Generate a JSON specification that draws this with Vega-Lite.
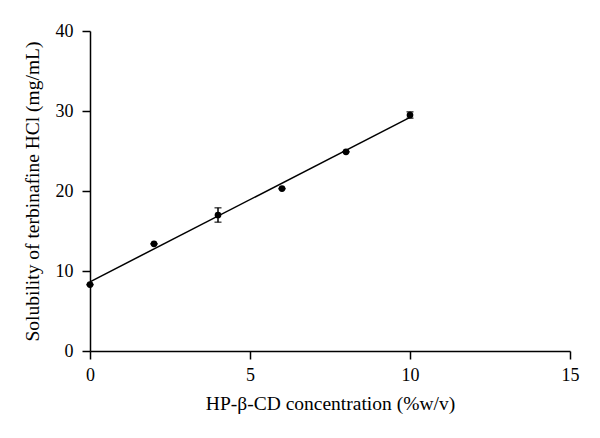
{
  "$schema": "https://vega.github.io/schema/vega-lite/v6.json",
  "width": 480,
  "height": 320,
  "autosize": "none",
  "padding": {"left": 90, "top": 31, "right": 30, "bottom": 87},
  "background": "white",
  "config": {
    "view": {"stroke": null},
    "font": "Liberation Serif",
    "axis": {
      "grid": false,
      "domainColor": "black",
      "domainWidth": 1.5,
      "tickColor": "black",
      "tickWidth": 1.5,
      "tickSize": 8,
      "labelFont": "Liberation Serif",
      "labelFontSize": 18,
      "labelColor": "black",
      "labelFlush": false,
      "labelOverlap": false,
      "titleFont": "Liberation Serif",
      "titleFontSize": 19.5,
      "titleFontWeight": "normal",
      "titleColor": "black"
    }
  },
  "datasets": {
    "points": [
      {"conc": 0, "sol": 8.3, "lo": 8.3, "hi": 8.3},
      {"conc": 2, "sol": 13.4, "lo": 13.4, "hi": 13.4},
      {"conc": 4, "sol": 17.0, "lo": 16.1, "hi": 17.9},
      {"conc": 6, "sol": 20.3, "lo": 20.3, "hi": 20.3},
      {"conc": 8, "sol": 24.9, "lo": 24.9, "hi": 24.9},
      {"conc": 10, "sol": 29.5, "lo": 29.1, "hi": 29.9}
    ],
    "fit": [
      {"conc": 0, "sol": 8.65},
      {"conc": 10, "sol": 29.2}
    ]
  },
  "layer": [
    {
      "data": {"name": "fit"},
      "mark": {"type": "line", "color": "black", "strokeWidth": 1.5},
      "encoding": {
        "x": {"field": "conc", "type": "quantitative", "scale": {"domain": [0, 15], "nice": false},
              "axis": {"values": [0, 5, 10, 15], "title": "HP-β-CD concentration (%w/v)", "labelPadding": 7, "titlePadding": 10}},
        "y": {"field": "sol", "type": "quantitative", "scale": {"domain": [0, 40], "nice": false},
              "axis": {"values": [0, 10, 20, 30, 40], "title": "Solubility of terbinafine HCl (mg/mL)", "labelPadding": 9, "titlePadding": 13}}
      }
    },
    {
      "data": {"name": "points"},
      "mark": {"type": "rule", "color": "black", "strokeWidth": 1.5},
      "encoding": {
        "x": {"field": "conc", "type": "quantitative"},
        "y": {"field": "lo", "type": "quantitative"},
        "y2": {"field": "hi"}
      }
    },
    {
      "data": {"name": "points"},
      "mark": {"type": "tick", "color": "black", "orient": "horizontal", "size": 7, "thickness": 1.5},
      "encoding": {
        "x": {"field": "conc", "type": "quantitative"},
        "y": {"field": "lo", "type": "quantitative"}
      }
    },
    {
      "data": {"name": "points"},
      "mark": {"type": "tick", "color": "black", "orient": "horizontal", "size": 7, "thickness": 1.5},
      "encoding": {
        "x": {"field": "conc", "type": "quantitative"},
        "y": {"field": "hi", "type": "quantitative"}
      }
    },
    {
      "data": {"name": "points"},
      "mark": {"type": "point", "filled": true, "color": "black", "opacity": 1, "size": 45},
      "encoding": {
        "x": {"field": "conc", "type": "quantitative"},
        "y": {"field": "sol", "type": "quantitative"}
      }
    }
  ]
}
